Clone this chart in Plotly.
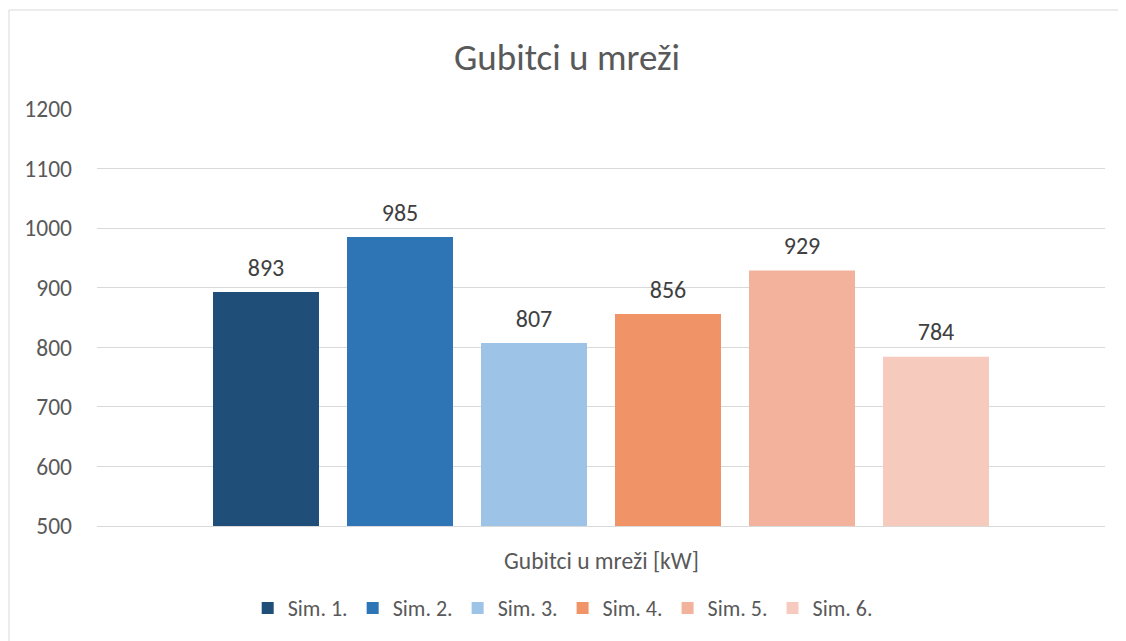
import plotly.graph_objects as go

series = ["Sim. 1.", "Sim. 2.", "Sim. 3.", "Sim. 4.", "Sim. 5.", "Sim. 6."]
values = [893, 985, 807, 856, 929, 784]
category = ["Gubitci u mreži [kW]"]
colors = ["#1F4E79", "#2E75B6", "#9DC3E6", "#F09366", "#F3B29B", "#F6CBBE"]

FONT = "Carlito, Calibri, Lato, sans-serif"

fig = go.Figure()
for i, (name, v, c) in enumerate(zip(series, values, colors)):
    fig.add_trace(go.Bar(
        name=name, x=category, y=[v], marker=dict(color=c, line=dict(width=0)),
        offsetgroup=str(i), legendgroup=name,
    ))
for i, (name, v) in enumerate(zip(series, values)):
    fig.add_trace(go.Scatter(
        x=category, y=[v], mode="markers+text", text=[str(v)], textposition="top center",
        marker=dict(size=15, color="rgba(0,0,0,0)"),
        offsetgroup=str(i), legendgroup=name, showlegend=False, cliponaxis=False,
        textfont=dict(size=24, color="#404040", family=FONT), hoverinfo="skip",
    ))

# body has an 8px default margin -> figure is 8px smaller and shifted
fig.update_layout(
    width=1118, height=633,
    margin=dict(l=89, r=21, t=101, b=115),
    paper_bgcolor="white", plot_bgcolor="white",
    barmode="group", bargap=0.2024, bargroupgap=0.209,
    scattermode="group", scattergap=0.2024,
    title=dict(text="Gubitci u mreži", x=0.5, xanchor="center", y=0.9226, yanchor="middle",
               yref="container",
               font=dict(size=37, color="#595959", family=FONT)),
    font=dict(family=FONT, color="#595959"),
    showlegend=True,
    legend=dict(orientation="h", x=0.462, xanchor="center", xref="paper",
                y=0.052, yanchor="middle", yref="container",
                font=dict(size=22, color="#595959", family=FONT),
                itemwidth=30, traceorder="normal"),
    yaxis=dict(range=[500, 1200], dtick=100, tick0=500, showgrid=True,
               gridcolor="#D9D9D9", gridwidth=1, zeroline=False,
               showline=False, ticks="", ticklen=0, ticklabelstandoff=24,
               tickfont=dict(size=23.5, color="#595959", family=FONT)),
    xaxis=dict(showgrid=False, showline=True, linecolor="#D9D9D9", linewidth=1,
               ticks="", showticklabels=False),
)

fig.add_annotation(text=category[0], xref="paper", yref="paper", x=0.5, y=-0.084,
                   showarrow=False, xanchor="center", yanchor="middle",
                   font=dict(size=23.5, color="#595959", family=FONT))

fig.add_shape(type="line", xref="paper", yref="paper", x0=-0.0873, x1=1.05, y0=1.2374, y1=1.2374,
              line=dict(color="#D9D9D9", width=1))
fig.add_shape(type="line", xref="paper", yref="paper", x0=-0.0873, x1=-0.0873, y0=1.2374, y1=-0.5,
              line=dict(color="#D9D9D9", width=1))

fig.write_html("out.html")
